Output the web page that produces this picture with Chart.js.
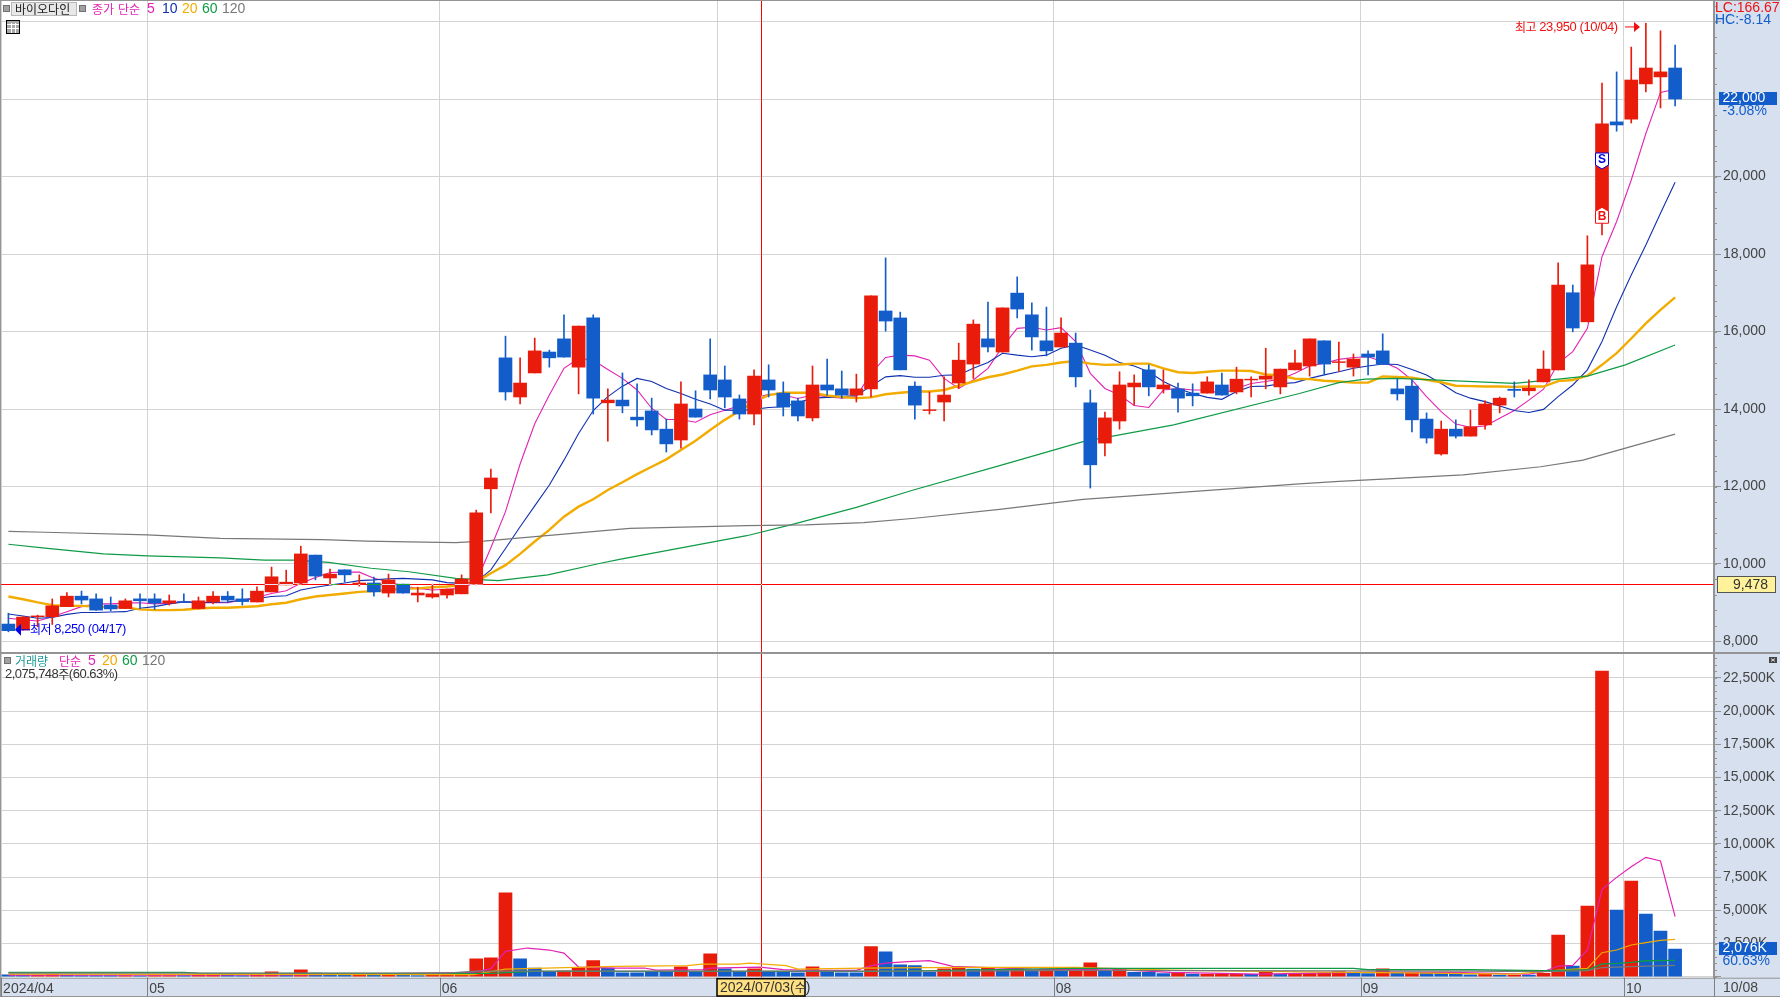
<!DOCTYPE html>
<html lang="ko">
<head>
<meta charset="utf-8">
<title>바이오다인</title>
<script src="https://cdn.jsdelivr.net/npm/chart.js@4"></script>
<style>
    html, body { margin: 0; padding: 0; background: #d6e0ef; width: 1780px; height: 997px; overflow: hidden; }
    canvas { position: absolute; left: 0; }
    #priceChart { top: 0; }
    #volumeChart { top: 652px; }
</style>
</head>
<body>
<canvas id="priceChart" width="1780" height="652"></canvas>
<canvas id="volumeChart" width="1780" height="345"></canvas>
<script>
// Daily candles, 2024/04/17 .. 2024/10/08
const opens = [8450,8300,8640,8640,8900,9170,9100,8940,8850,9100,9100,8990,9030,8850,9020,9170,9100,9020,9280,9460,9510,10230,9640,9850,9490,9510,9250,9480,9200,9150,9200,9230,9480,11940,15320,14310,14930,15470,15810,15080,16350,14160,14230,13790,13950,13480,13200,14000,14880,14750,14260,13870,14750,14410,14210,13770,14620,14520,14360,14520,16530,16350,14590,13960,14180,14670,15160,15810,15470,16990,16430,15760,15600,15700,14160,13120,13690,14570,15010,14520,14520,14410,14410,14620,14440,14750,14770,14570,15010,15110,15760,15200,15080,15420,15500,14520,14590,13740,12840,13480,13300,13590,14100,14510,14470,14700,15010,17000,16250,18810,21410,21480,22390,22570,22800];
const highs = [8730,8640,8680,9100,9260,9300,9230,9150,9100,9230,9230,9200,9230,9150,9290,9290,9360,9410,9920,9840,10460,10230,9870,9850,9720,9660,9740,9480,9400,9480,9350,9720,11390,12450,15880,15320,15830,15520,16430,16140,16430,14520,14930,14650,14280,13740,14700,14470,15810,15110,14360,15010,15140,14700,14280,15110,15290,14980,14900,16920,17900,16500,14700,14440,14830,15700,16300,16760,16610,17410,16740,16630,16350,15960,14490,13920,14960,14880,15140,15010,14670,14650,14830,14930,15080,14830,15570,15030,15520,15810,15760,15730,15420,15500,15940,14770,14750,13900,13690,13720,13970,14210,14310,14700,14750,15500,17770,17200,18470,22410,22700,23340,23950,23760,23390];
const lows = [8250,8290,8380,8440,8900,8970,8800,8790,8850,8850,8830,8940,9010,8840,8970,9000,8940,9020,9280,9460,9480,9590,9460,9530,9430,9170,9150,9250,9020,9120,9120,9230,9460,11320,14230,14130,14930,15080,15340,14390,13870,13170,13900,13560,13330,12890,12990,13790,14260,14030,13740,13590,14310,13820,13690,13690,14360,14280,14180,14310,16010,15010,13740,13870,13690,14530,14790,15470,15470,16350,15520,15370,15600,14570,11960,12790,13480,14100,14340,14410,13920,14080,14410,14360,14390,14310,14520,14390,15010,14850,14880,14970,14850,14880,15160,14230,13410,13120,12810,13250,13300,13480,13900,14310,14360,14700,15010,15990,16250,18490,21170,21380,22180,21770,21820];
const closes = [8280,8630,8660,8920,9170,9070,8810,8840,9050,9050,8990,9050,9010,9050,9170,9070,9030,9300,9670,9530,10260,9690,9740,9720,9510,9280,9590,9250,9250,9230,9350,9610,11320,12220,14440,14670,15500,15320,15340,16140,14280,14230,14080,13720,13460,13100,14130,13790,14490,14310,13870,14850,14490,14050,13820,14620,14490,14360,14520,16920,16270,15010,14100,13980,14360,15260,16190,15600,16610,16580,15860,15500,15960,14830,12560,13770,14620,14670,14570,14620,14280,14340,14700,14360,14770,14770,14850,15030,15190,15810,15160,15220,15290,15340,15160,14390,13720,13250,13480,13300,13540,14130,14280,14480,14540,15030,17200,16090,17720,21360,21330,22490,22800,22700,22000];

const ma5 = [8600,8560,8530,8640,8770,8900,8970,8970,8990,9000,8970,8990,9030,9010,9000,9000,9070,9140,9240,9310,9500,9650,9780,9790,9790,9630,9540,9430,9370,9330,9350,9370,9540,10420,11350,12580,13620,14360,15050,15310,15260,15020,14790,14490,14020,13730,13730,13660,13850,13970,14080,14280,14380,14360,14270,14360,14320,14280,14320,14920,15330,15390,15370,15260,14790,14530,14750,15050,15610,16080,16110,16040,16100,15740,14920,14530,14360,14090,14040,14490,14530,14490,14490,14390,14530,14660,14710,14770,14920,15110,15180,15280,15330,15350,15220,15050,14750,14320,13930,13610,13530,13560,13760,13960,14230,14510,15180,15480,16080,17930,18840,19910,21110,22170,22250];
const ma10 = [8710,8660,8600,8620,8700,8750,8750,8760,8770,8860,8900,8970,9020,9000,9010,9020,9070,9110,9160,9180,9330,9400,9460,9510,9570,9590,9620,9630,9610,9590,9520,9500,9540,9850,10400,10960,11500,12040,12680,13370,13960,14320,14590,14790,14710,14530,14400,14250,14130,13970,13960,13990,14040,14060,14160,14280,14300,14320,14350,14590,14830,14860,14820,14820,14870,14880,15050,15200,15440,15390,15350,15390,15570,15650,15520,15390,15200,15110,14960,14710,14530,14400,14300,14250,14450,14580,14590,14650,14680,14790,14880,14960,15050,15110,15160,15150,15020,14880,14660,14420,14280,14190,14080,13960,13910,13990,14320,14620,15010,15740,16640,17460,18230,19050,19850];
const ma20 = [9160,9090,9010,8940,8920,8920,8900,8890,8880,8830,8810,8810,8820,8850,8870,8870,8890,8910,8960,9000,9090,9160,9200,9240,9280,9300,9330,9360,9370,9400,9420,9450,9540,9760,9970,10260,10580,10880,11220,11480,11670,11910,12110,12320,12510,12700,12940,13180,13460,13720,13950,14190,14360,14420,14420,14420,14350,14310,14280,14300,14380,14420,14450,14450,14490,14600,14710,14820,14890,14990,15100,15140,15200,15240,15170,15140,15150,15170,15170,15050,14950,14930,14960,14990,14990,14980,14890,14870,14780,14770,14730,14710,14680,14680,14840,14830,14810,14750,14690,14600,14590,14580,14580,14570,14580,14580,14720,14750,14860,15140,15440,15820,16210,16560,16880];
const ma60Idx = [0,2.5,6.5,9.5,14.5,17.5,19.6,21.9,24.8,27.4,30.6,33.5,36.9,40.5,41.8,50.5,53.5,58,61.9,67.8,73.5,79.7,88.3,91,92.8,95,103,105.5,108,110.6,114];
const ma60 = [10510,10410,10260,10210,10160,10100,10100,10040,9890,9800,9630,9570,9720,10020,10120,10730,11010,11460,11910,12540,13160,13590,14400,14680,14770,14790,14660,14750,14850,15140,15650];
const ma120Idx = [0,2.5,9.5,14.5,21.5,24.5,27.4,30.6,32.5,42.5,50.5,54.5,58.5,62,67.8,73.5,88.3,91,94,99.5,104.8,107.7,114];
const ma120 = [10840,10820,10750,10660,10630,10590,10570,10550,10590,10920,10990,11010,11070,11180,11410,11670,12070,12130,12190,12300,12510,12680,13350];

// Volume in thousand shares, volUp 1 = red bar
const volumes = [150,120,130,170,100,90,90,80,90,70,90,90,80,110,120,100,90,130,376,130,527,276,150,120,180,130,150,100,90,100,130,200,1355,1430,6325,1355,650,330,450,680,1205,650,300,300,330,350,750,350,1730,600,400,600,400,400,300,750,400,300,300,2260,1880,900,830,330,600,680,580,680,530,580,480,580,430,580,1050,480,580,330,330,230,300,200,180,180,180,180,380,180,200,250,300,380,250,230,600,250,300,250,230,180,150,180,125,100,125,250,3140,800,5320,23020,5020,7200,4720,3440,2076];
const volUp = [0,0,1,1,0,0,0,0,1,0, 1,1,0,1,1,0,0,1,1,0, 1,0,0,0,1,0,1,0,0,1, 1,1,1,1,1,0,0,0,1,1, 1,0,0,0,0,0,1,0,1,0, 0,1,0,0,0,1,0,0,0,1, 0,0,0,0,1,1,0,1,0,1, 0,1,0,1,1,0,1,0,0,0, 1,0,1,1,1,0,1,0,1,1, 1,1,0,0,1,0,1,0,0,0, 0,1,0,1,0,1,1,0,1,1, 0,1,0,0,0];
const volMa5Idx = [0,20,31.8,33,34,35.5,37,38,39,41.4,43.5,44.3,47.5,48,51.4,53,54.7,58,59,60,61.5,63,64.6,70,76.5,79.5,85.5,93.5,98.6,104,105,106,107,108,109,110,111,112,113,114];
const volMa5 = [120,130,326,602,1908,2159,2008,1782,728,653,653,502,527,653,728,527,477,477,828,1029,1130,1205,780,577,502,326,200,351,326,200,376,803,853,2008,6576,7480,8283,8986,8710,4518];
const volMa20Idx = [0,31.8,34,41.5,46.4,47.5,50,50.7,53.2,54,58.5,65,73,79.5,85.5,97,103,105,106,108,109,110,111,112,113,114];
const volMa20 = [200,150,577,778,828,954,954,1029,828,577,653,703,703,502,400,276,200,376,500,627,1807,2008,2385,2560,2736,2811];
const volMa60Idx = [0,12,13,26,33,36,60,73,92,93,100,105,108,109,110,111,112,114];
const volMa60 = [326,326,270,251,251,400,400,630,630,520,520,452,502,954,1004,1079,1205,1230];
const volMa120Idx = [0,30,32,65,73,100,105,108,109,111,114];
const volMa120 = [276,276,427,427,477,427,376,452,678,753,853];

// Axis ticks
const priceTicks = [8000,10000,12000,14000,16000,18000,20000,22000,24000];
const priceHiddenLabels = [22000,24000];
const volumeTicks = [0,2500,5000,7500,10000,12500,15000,17500,20000,22500];
const monthTickIdx = [-0.5,9.5,29.5,48.5,71.5,92.5,110.5];
const monthLabels = ['2024/04','05','06','','08','09','10'];

// Cursor and annotations
const cursorIdx = 51.5;
const cursorPrice = 9478;
const cursorDate = '2024/07/03(수)';
const lastDate = '10/08';
const highText = '최고 23,950 (10/04)';
const lowText = '최저 8,250 (04/17)';
const lastPrice = 22000;
const lastPriceText = '22,000';
const lastPctText = '-3.08%';
const lastVolume = 2076;
const lastVolumeText = '2,076K';
const lastVolumePctText = '60.63%';
const volumeInfo = '2,075,748주(60.63%)';

const RED = '#e91c0b';
const BLUE = '#135dcb';
const COL_MA5 = '#e322b4';
const COL_MA10 = '#1030b0';
const COL_MA20 = '#f2ac00';
const COL_MA60 = '#0f9b46';
const COL_MA120 = '#787878';
const GRID = '#d3d3d3';
const AXIS = '#949494';
const LATIN = '"Liberation Sans Narrow", "Liberation Sans", sans-serif';
const HANGUL = '"Noto Sans CJK KR", sans-serif';

const pts = (xs, ys) => xs.map((x, i) => ({ x, y: ys[i] }));
const seq = ys => ys.map((y, i) => ({ x: i, y }));

function lineSet(data, color, width) {
    return { type: 'line', data, borderColor: color, borderWidth: width, pointRadius: 0, tension: 0, order: 5 };
}

// Mixed hangul / latin text, the two need different sizes to look like the bitmap font
function drawText(ctx, text, x, y, color, size = 14, spacing = 0) {
    ctx.fillStyle = color;
    ctx.textAlign = 'left';
    ctx.textBaseline = 'middle';
    ctx.letterSpacing = spacing + 'px';
    text.split(/([\uAC00-\uD7A3]+)/).forEach(part => {
        if (!part) return;
        ctx.font = /[\uAC00-\uD7A3]/.test(part) ? '12px ' + HANGUL : size + 'px ' + LATIN;
        ctx.fillText(part, x, y);
        x += ctx.measureText(part).width;
    });
    ctx.letterSpacing = '0px';
    return x;
}

function drawGraySquare(ctx, x, y) {
    ctx.fillStyle = '#a0a0a0';
    ctx.strokeStyle = '#707070';
    ctx.fillRect(x, y, 5, 5);
    ctx.strokeRect(x - 0.5, y - 0.5, 6, 6);
}

function drawValueBox(ctx, y, h, text, subText) {
    ctx.fillStyle = BLUE;
    ctx.fillRect(1719, y, 58, h);
    drawText(ctx, text, 1722.5, y + h / 2, '#ffffff');
    drawText(ctx, subText, 1722.5, y + h + 6, BLUE);
}

function drawMinorTicks(ctx, scale, step) {
    ctx.strokeStyle = AXIS;
    ctx.lineWidth = 1;
    ctx.beginPath();
    for (let v = Math.ceil(scale.min / step) * step; v <= scale.max; v += step) {
        const y = Math.round(scale.getPixelForValue(v)) + 0.5;
        ctx.moveTo(1715, y);
        ctx.lineTo(1717, y);
    }
    ctx.stroke();
}

function drawSignal(ctx, x, yMid, letter, color, pointUp) {
    const l = x - 6.5, r = x + 6.5, t = yMid - 8, b = yMid + 8;
    ctx.beginPath();
    if (pointUp) {
        ctx.moveTo(l, t + 4); ctx.lineTo(x, t); ctx.lineTo(r, t + 4); ctx.lineTo(r, b); ctx.lineTo(l, b);
    } else {
        ctx.moveTo(l, t); ctx.lineTo(r, t); ctx.lineTo(r, b - 4); ctx.lineTo(x, b); ctx.lineTo(l, b - 4);
    }
    ctx.closePath();
    ctx.fillStyle = '#ffffff';
    ctx.fill();
    ctx.strokeStyle = color;
    ctx.lineWidth = 1;
    ctx.stroke();
    ctx.font = 'bold 12px "Liberation Sans"';
    ctx.fillStyle = color;
    ctx.textAlign = 'center';
    ctx.textBaseline = 'middle';
    ctx.fillText(letter, x, yMid + (pointUp ? 1 : -1));
}

// XOR-like cursor: red on white, near white on red, green on blue
function drawCursor(chart, withHorizontal) {
    const { ctx, chartArea, scales } = chart;
    ctx.save();
    ctx.globalCompositeOperation = 'difference';
    ctx.fillStyle = '#00ffff';
    ctx.fillRect(Math.round(scales.x.getPixelForValue(cursorIdx)), chartArea.top, 1, chartArea.height);
    if (withHorizontal) {
        ctx.fillRect(chartArea.left - 1, Math.round(scales.y.getPixelForValue(cursorPrice)), chartArea.width + 1, 1);
    }
    ctx.restore();
}

const paintPanel = {
    id: 'paintPanel',
    beforeDraw(chart) {
        const { ctx, chartArea } = chart;
        ctx.fillStyle = '#ffffff';
        ctx.fillRect(0, chartArea.top, chartArea.right, chartArea.height);
    }
};

const priceOverlay = {
    id: 'priceOverlay',
    afterDatasetsDraw(chart) {
        const { ctx, scales } = chart;
        const xs = scales.x, ys = scales.y;
        drawSignal(ctx, xs.getPixelForValue(109), ys.getPixelForValue(20400), 'S', '#0000e0', false);
        drawSignal(ctx, xs.getPixelForValue(109), ys.getPixelForValue(19000), 'B', '#f01010', true);
        drawCursor(chart, true);
    },
    afterDraw(chart) {
        const { ctx, scales } = chart;
        const ys = scales.y;
        ctx.save();
        drawMinorTicks(ctx, ys, 400);

        // frame
        ctx.fillStyle = AXIS;
        ctx.fillRect(0, 0, 1780, 1);
        ctx.fillRect(0, 0, 1, 652);

        // high / low marks
        const highY = ys.getPixelForValue(23950) + 3.5;
        drawText(ctx, highText, 1515, highY, '#f01010', 13, -0.45);
        ctx.strokeStyle = '#f01010';
        ctx.beginPath(); ctx.moveTo(1625, highY); ctx.lineTo(1636, highY); ctx.stroke();
        ctx.fillStyle = '#f01010';
        ctx.beginPath(); ctx.moveTo(1634, highY - 5); ctx.lineTo(1640, highY); ctx.lineTo(1634, highY + 5); ctx.fill();

        const lowY = ys.getPixelForValue(8250) - 2;
        drawText(ctx, lowText, 30, lowY, '#0000f0', 13, -0.45);
        ctx.strokeStyle = '#0000f0';
        ctx.beginPath(); ctx.moveTo(18, lowY); ctx.lineTo(30, lowY); ctx.stroke();
        ctx.fillStyle = '#0000f0';
        ctx.beginPath(); ctx.moveTo(21, lowY - 6); ctx.lineTo(15, lowY); ctx.lineTo(21, lowY + 6); ctx.fill();

        // legend row
        drawGraySquare(ctx, 4, 6);
        ctx.fillStyle = '#e8e8e8';
        ctx.fillRect(11, 2, 66, 14);
        ctx.strokeStyle = '#b8b8b8';
        ctx.strokeRect(11.5, 2.5, 65, 13);
        drawText(ctx, '바이오다인', 15, 9, '#222222');
        drawGraySquare(ctx, 80, 6);
        drawText(ctx, '종가 단순', 92, 9, COL_MA5);
        drawText(ctx, '5', 147, 9, COL_MA5);
        drawText(ctx, '10', 162, 9, COL_MA10);
        drawText(ctx, '20', 182, 9, COL_MA20);
        drawText(ctx, '60', 202, 9, COL_MA60);
        drawText(ctx, '120', 222, 9, COL_MA120);

        // table icon
        ctx.fillStyle = '#a8a8a8';
        ctx.fillRect(7, 21, 12, 12);
        ctx.strokeStyle = '#000000';
        ctx.strokeRect(6.5, 20.5, 13, 13);
        ctx.strokeStyle = '#ffffff';
        ctx.beginPath();
        [11, 15].forEach(x => { ctx.moveTo(x + 0.5, 23); ctx.lineTo(x + 0.5, 33); });
        [24, 28].forEach(y => { ctx.moveTo(7, y + 0.5); ctx.lineTo(19, y + 0.5); });
        ctx.stroke();

        // right axis readouts
        drawText(ctx, 'LC:166.67', 1715, 8, '#f01010');
        drawText(ctx, 'HC:-8.14', 1715, 20, BLUE);
        const boxY = Math.round(ys.getPixelForValue(lastPrice)) - 7;
        drawValueBox(ctx, boxY, 13, lastPriceText, lastPctText);

        const cursorY = Math.round(ys.getPixelForValue(cursorPrice));
        ctx.fillStyle = '#fff29a';
        ctx.fillRect(1717, cursorY - 8, 59, 17);
        ctx.strokeStyle = '#555555';
        ctx.strokeRect(1717.5, cursorY - 7.5, 58, 16);
        drawText(ctx, cursorPrice.toLocaleString('en-US'), 1733, cursorY + 1, '#333333');
        ctx.restore();
    }
};

const volumeOverlay = {
    id: 'volumeOverlay',
    afterDatasetsDraw(chart) {
        drawCursor(chart, false);
    },
    afterDraw(chart) {
        const { ctx, scales, chartArea } = chart;
        const xs = scales.x, ys = scales.y;
        ctx.save();
        drawMinorTicks(ctx, ys, 500);

        // frame and panel separator
        ctx.fillStyle = AXIS;
        ctx.fillRect(0, 0, 1780, 2);
        ctx.fillRect(0, 0, 1, 345);
        ctx.fillRect(0, chartArea.bottom, 1780, 1);
        ctx.fillRect(0, 344, 1780, 1);

        // month dividers in the date strip
        ctx.fillStyle = '#808080';
        monthTickIdx.forEach(v => ctx.fillRect(Math.round(xs.getPixelForValue(v)), chartArea.bottom, 1, 20));
        ctx.fillRect(1714, chartArea.bottom, 1, 20);

        // legend
        drawGraySquare(ctx, 5, 6);
        drawText(ctx, '거래량', 15, 9, '#1f9a96');
        drawText(ctx, '단순', 59, 9, COL_MA5);
        drawText(ctx, '5', 88, 9, COL_MA5);
        drawText(ctx, '20', 102, 9, COL_MA20);
        drawText(ctx, '60', 122, 9, COL_MA60);
        drawText(ctx, '120', 142, 9, COL_MA120);
        drawText(ctx, volumeInfo, 5, 22, '#333333', 13, -0.5);

        // close button
        ctx.fillStyle = '#444444';
        ctx.fillRect(1769, 5, 8, 6);
        ctx.strokeStyle = '#dddddd';
        ctx.beginPath(); ctx.moveTo(1771, 6.5); ctx.lineTo(1775, 9.5); ctx.moveTo(1775, 6.5); ctx.lineTo(1771, 9.5); ctx.stroke();

        // last volume readout
        const boxY = Math.round(ys.getPixelForValue(lastVolume)) - 7;
        drawValueBox(ctx, boxY, 13, lastVolumeText, lastVolumePctText);

        // date cursor and last date
        const left = 717, right = 805, top = chartArea.bottom + 1;
        ctx.fillStyle = '#ffe083';
        ctx.fillRect(left, top, right - left, 344 - top);
        ctx.strokeStyle = '#000000';
        ctx.lineWidth = 1.5;
        ctx.strokeRect(left, top, right - left, 344 - top);
        ctx.lineWidth = 1;
        drawText(ctx, cursorDate, 720, top + 9, '#333333');
        drawText(ctx, lastDate, 1723, top + 9, '#444444');
        ctx.restore();
    }
};

function yAxisConfig(min, max, ticks, hidden, format) {
    return {
        position: 'right', min, max,
        afterFit: scale => {
            scale.width = 66;
            scale.paddingTop = 0;
            scale.paddingBottom = 0;
        },
        afterBuildTicks: scale => { scale.ticks = ticks.map(value => ({ value })); },
        border: { color: AXIS, width: 2 },
        grid: { color: GRID, lineWidth: 1, tickLength: 7, tickColor: AXIS },
        ticks: {
            autoSkip: false, padding: 2, color: '#444444',
            font: { family: LATIN, size: 14 },
            callback: v => hidden.includes(v) ? '' : format(v)
        }
    };
}

function xAxisConfig(height, showLabels) {
    return {
        type: 'linear', offset: false, min: -0.5, max: 116.66,
        afterFit: scale => {
            scale.height = height;
            scale.paddingLeft = 0;
            scale.paddingRight = 0;
        },
        afterBuildTicks: scale => { scale.ticks = monthTickIdx.map(value => ({ value })); },
        border: { display: false },
        grid: { color: GRID, lineWidth: 1, offset: false, drawTicks: false },
        ticks: {
            display: showLabels, autoSkip: false, maxRotation: 0, align: 'start', padding: 3, labelOffset: 2,
            color: '#444444', font: { family: LATIN, size: 14 },
            callback: (v, i) => monthLabels[i]
        }
    };
}

const baseOptions = {
    responsive: false, animation: false, events: [],
    plugins: { legend: { display: false }, tooltip: { enabled: false } }
};

function initCharts() {
    const candleColors = closes.map((c, i) => c >= opens[i] ? RED : BLUE);

    new Chart(document.getElementById('priceChart'), {
        type: 'bar',
        data: {
            datasets: [
                { data: opens.map((o, i) => ({ x: i, y: [o, closes[i]] })), backgroundColor: candleColors, barThickness: 13, grouped: false, order: 1 },
                { data: lows.map((l, i) => ({ x: i, y: [l, highs[i]] })), backgroundColor: candleColors, barThickness: 1, grouped: false, order: 2 },
                lineSet(pts(ma120Idx, ma120), COL_MA120, 1.2),
                lineSet(pts(ma60Idx, ma60), COL_MA60, 1.2),
                lineSet(seq(ma20), COL_MA20, 2.4),
                lineSet(seq(ma10), COL_MA10, 1.1),
                lineSet(seq(ma5), COL_MA5, 1.1)
            ]
        },
        options: {
            ...baseOptions,
            layout: { padding: { left: 1.09, right: 0, top: 0, bottom: 0 } },
            scales: {
                x: xAxisConfig(0, false),
                y: yAxisConfig(7729, 24555, priceTicks, priceHiddenLabels, v => v.toLocaleString('en-US'))
            }
        },
        plugins: [paintPanel, priceOverlay]
    });

    new Chart(document.getElementById('volumeChart'), {
        type: 'bar',
        data: {
            datasets: [
                { data: seq(volumes), backgroundColor: volUp.map(u => u ? RED : BLUE), barThickness: 13, grouped: false, order: 6 },
                lineSet(pts(volMa120Idx, volMa120), COL_MA120, 1.2),
                lineSet(pts(volMa60Idx, volMa60), COL_MA60, 1.4),
                lineSet(pts(volMa20Idx, volMa20), COL_MA20, 1.2),
                lineSet(pts(volMa5Idx, volMa5), COL_MA5, 1.2)
            ]
        },
        options: {
            ...baseOptions,
            layout: { padding: { left: 1.09, right: 0, top: 0, bottom: 0 } },
            scales: {
                x: xAxisConfig(19.3, true),
                y: yAxisConfig(-75, 24450, volumeTicks, [0], v => v.toLocaleString('en-US') + 'K')
            }
        },
        plugins: [paintPanel, volumeOverlay]
    });
}

initCharts();
</script>
</body>
</html>
